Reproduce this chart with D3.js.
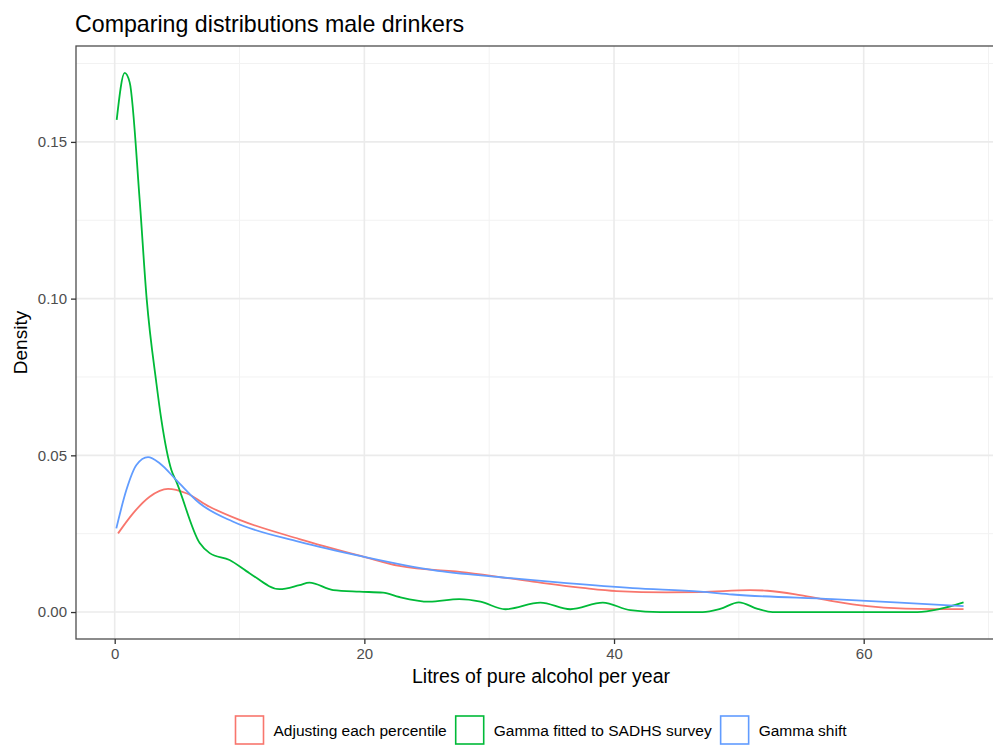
<!DOCTYPE html>
<html>
<head>
<meta charset="utf-8">
<script src="https://d3js.org/d3.v7.min.js"></script>
<style>
  body { margin: 0; background: #fff; }
  text { font-family: "Liberation Sans", Arial, sans-serif; }
</style>
</head>
<body>
<script>

// series names + colours (ggplot defaults)
var seriesNames = ["Adjusting each percentile", "Gamma fitted to SADHS survey", "Gamma shift"];
var seriesColors = ["#F8766D", "#00BA38", "#619CFF"];

// density curves, [litres, density]
var adjustingPts = [
  [0.27, 0.0251], [1.47, 0.0315], [2.8, 0.0368], [4.27, 0.0393], [5.74, 0.0379],
  [7.6, 0.0336], [10.0, 0.0294], [14.8, 0.0233], [19.9, 0.0177], [22.8, 0.0147],
  [28.2, 0.0126], [33.5, 0.0097], [37.5, 0.0077], [40.2, 0.0067], [44.2, 0.0063],
  [47.0, 0.0064], [50.9, 0.0070], [52.3, 0.0068], [54.9, 0.0054], [57.5, 0.0035],
  [60.3, 0.0019], [62.9, 0.0012], [68.0, 0.0009]
];
var gammaSadhsPts = [
  [0.16, 0.157], [0.8, 0.172], [1.2, 0.169], [2.0, 0.1315], [2.56, 0.100],
  [3.34, 0.073], [3.74, 0.0613], [4.54, 0.0453], [4.94, 0.0416], [6.81, 0.022],
  [7.61, 0.0188], [9.2, 0.0166], [10.8, 0.0124], [13.2, 0.0073], [14.8, 0.0086],
  [15.6, 0.0094], [17.5, 0.0070], [19.6, 0.0065], [21.5, 0.0062], [22.8, 0.0048],
  [25.2, 0.0033], [27.6, 0.0041], [29.3, 0.0033], [31.3, 0.0009], [34.1, 0.0030],
  [36.5, 0.0009], [39.1, 0.0030], [41.3, 0.0006], [43.7, 0.0], [47.1, 0.0],
  [48.5, 0.001], [50.0, 0.0031], [51.5, 0.001], [52.7, 0.0], [64.3, 0.0],
  [66.1, 0.001], [68.0, 0.0031]
];
var gammaShiftPts = [
  [0.13, 0.0267], [0.94, 0.039], [1.74, 0.0469], [2.67, 0.0494], [3.6, 0.0475],
  [4.94, 0.0421], [6.8, 0.0347], [9.5, 0.0288], [14.8, 0.0224], [19.9, 0.0177],
  [25.5, 0.0134], [30.9, 0.0111], [36.2, 0.0092], [41.5, 0.0076], [46.9, 0.0065],
  [49.5, 0.0056], [57.5, 0.0041], [62.9, 0.0030], [68.0, 0.0019]
];

var xTicks = [0, 20, 40, 60];
var xMinor = [10, 30, 50, 70];
var yTicks = [0, 0.05, 0.10, 0.15];
var yMinor = [0.025, 0.075, 0.125, 0.175];

var W = 993, H = 745;
var panel = {left: 76, top: 46, right: 1006, bottom: 639};

var svg = d3.select("body").append("svg")
    .attr("width", W)
    .attr("height", H);

var x = d3.scaleLinear().domain([-3.1, 71.4]).range([panel.left, panel.right]);
var y = d3.scaleLinear().domain([-0.0086, 0.1806]).range([panel.bottom, panel.top]);

svg.append("clipPath").attr("id", "clip")
  .append("rect")
    .attr("x", panel.left).attr("y", panel.top)
    .attr("width", panel.right - panel.left).attr("height", panel.bottom - panel.top);

var grid = svg.append("g").attr("clip-path", "url(#clip)");

// minor grid
grid.selectAll(".xminor").data(xMinor).enter().append("line")
    .attr("x1", function(d) { return x(d); }).attr("x2", function(d) { return x(d); })
    .attr("y1", panel.top).attr("y2", panel.bottom)
    .attr("stroke", "#f2f2f2").attr("stroke-width", 1);
grid.selectAll(".yminor").data(yMinor).enter().append("line")
    .attr("y1", function(d) { return y(d); }).attr("y2", function(d) { return y(d); })
    .attr("x1", panel.left).attr("x2", panel.right)
    .attr("stroke", "#f2f2f2").attr("stroke-width", 1);

// major grid
grid.selectAll(".xmajor").data(xTicks).enter().append("line")
    .attr("x1", function(d) { return x(d); }).attr("x2", function(d) { return x(d); })
    .attr("y1", panel.top).attr("y2", panel.bottom)
    .attr("stroke", "#ebebeb").attr("stroke-width", 1.6);
grid.selectAll(".ymajor").data(yTicks).enter().append("line")
    .attr("y1", function(d) { return y(d); }).attr("y2", function(d) { return y(d); })
    .attr("x1", panel.left).attr("x2", panel.right)
    .attr("stroke", "#ebebeb").attr("stroke-width", 1.6);

// curves
var line = d3.line()
    .x(function(d) { return x(d[0]); })
    .y(function(d) { return y(d[1]); })
    .curve(d3.curveMonotoneX);

var allPts = [adjustingPts, gammaSadhsPts, gammaShiftPts];

svg.append("g").attr("clip-path", "url(#clip)")
  .selectAll("path")
  .data(allPts)
  .enter().append("path")
    .attr("d", line)
    .attr("fill", "none")
    .attr("stroke", function(d, i) { return seriesColors[i]; })
    .attr("stroke-width", 1.8);

// panel border
svg.append("rect")
    .attr("x", panel.left).attr("y", panel.top)
    .attr("width", panel.right - panel.left).attr("height", panel.bottom - panel.top)
    .attr("fill", "none")
    .attr("stroke", "#4d4d4d")
    .attr("stroke-width", 1.3);

// axes
var xAxis = svg.append("g")
    .attr("transform", "translate(0," + panel.bottom + ")")
    .call(d3.axisBottom(x).tickValues(xTicks).tickSize(5).tickPadding(4).tickFormat(d3.format("d")));
var yAxis = svg.append("g")
    .attr("transform", "translate(" + panel.left + ",0)")
    .call(d3.axisLeft(y).tickValues(yTicks).tickSize(5).tickPadding(4).tickFormat(d3.format(".2f")));

[xAxis, yAxis].forEach(function(a) {
  a.select(".domain").remove();
  a.selectAll(".tick line").attr("stroke", "#333").attr("stroke-width", 1.3);
  a.selectAll(".tick text")
    .attr("fill", "#4d4d4d")
    .style("font-family", "'Liberation Sans', Arial, sans-serif")
    .style("font-size", "15px");
});

// titles
svg.append("text")
    .attr("x", 75).attr("y", 32)
    .attr("fill", "#000")
    .style("font-size", "23.2px")
    .text("Comparing distributions male drinkers");

svg.append("text")
    .attr("x", (panel.left + panel.right) / 2).attr("y", 683)
    .attr("text-anchor", "middle")
    .attr("fill", "#000")
    .style("font-size", "19.5px")
    .text("Litres of pure alcohol per year");

svg.append("text")
    .attr("transform", "translate(27," + (panel.top + panel.bottom) / 2 + ") rotate(-90)")
    .attr("text-anchor", "middle")
    .attr("fill", "#000")
    .style("font-size", "19px")
    .text("Density");

// legend
var legend = svg.append("g");
var keyW = 28, keyH = 28, gapText = 10, gapItem = 9;
var cx = 0;
var items = legend.selectAll("g").data(seriesNames).enter().append("g");
items.append("rect")
    .attr("y", 716)
    .attr("width", keyW).attr("height", keyH)
    .attr("fill", "#fff")
    .attr("stroke", function(d, i) { return seriesColors[i]; })
    .attr("stroke-width", 1.6);
items.append("text")
    .attr("x", keyW + gapText).attr("y", 736)
    .attr("fill", "#000")
    .style("font-size", "15.5px")
    .text(function(d) { return d; });
items.each(function() {
  var g = d3.select(this);
  g.attr("transform", "translate(" + cx + ",0)");
  cx += keyW + gapText + g.select("text").node().getComputedTextLength() + gapItem;
});
cx -= gapItem;
legend.attr("transform", "translate(" + ((panel.left + panel.right) / 2 - cx / 2) + ",0)");

</script>
</body>
</html>
